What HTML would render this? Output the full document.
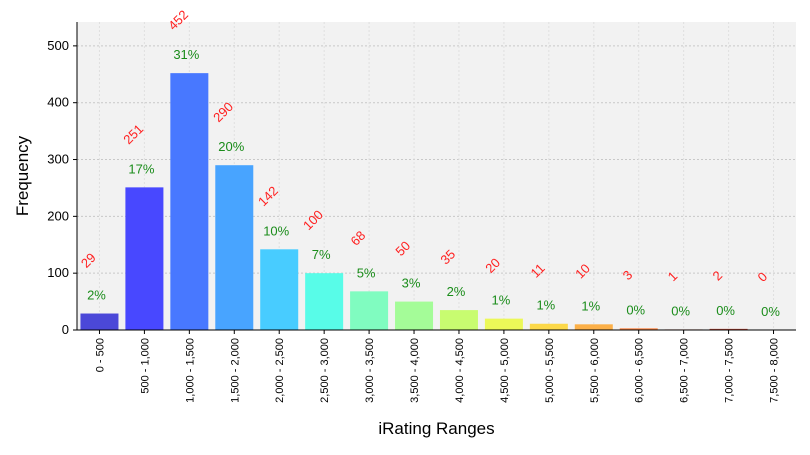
<!DOCTYPE html>
<html><head><meta charset="utf-8"><style>body{margin:0;background:#fff}svg{font-family:"Liberation Sans","DejaVu Sans",sans-serif}</style></head>
<body>
<svg width="810" height="450">
<g id="plot"></g>
</svg>
<script>
const categories=["0 - 500","500 - 1,000","1,000 - 1,500","1,500 - 2,000","2,000 - 2,500","2,500 - 3,000","3,000 - 3,500","3,500 - 4,000","4,000 - 4,500","4,500 - 5,000","5,000 - 5,500","5,500 - 6,000","6,000 - 6,500","6,500 - 7,000","7,000 - 7,500","7,500 - 8,000"];
const counts=[29,251,452,290,142,100,68,50,35,20,11,10,3,1,2,0];
const percents=["2%","17%","31%","20%","10%","7%","5%","3%","2%","1%","1%","1%","0%","0%","0%","0%"];
const yTicks=[0,100,200,300,400,500];
const colors=["#4b48d8","#4848ff","#4878ff","#48a4ff","#48ccff","#58fce8","#80fcc0","#a4fc98","#c8fc70","#ecf858","#fcd848","#fcb048","#fc8848","#e86040","#c04838","#a03030"];
const NS="http://www.w3.org/2000/svg";
const L=77,R=796,T=22,B=330,yMax=542;
const y=v=>B-(v/yMax)*(B-T);
const step=(R-L)/categories.length;
const x=i=>L+step*(i+0.5);
const g=document.getElementById('plot');
function el(t,a,txt){const e=document.createElementNS(NS,t);for(const k in a)e.setAttribute(k,a[k]);if(txt!==undefined)e.textContent=txt;g.appendChild(e);return e;}
let bg=el('rect',{x:L,y:T,width:R-L,height:B-T,fill:'#f2f2f2'});


yTicks.forEach(v=>{
 let gl=el('line',{x1:L,x2:R,y1:y(v),y2:y(v),stroke:'#c8c8c8','stroke-dasharray':'2,2'});
 
 
 let tk=el('line',{x1:L-4,x2:L,y1:y(v),y2:y(v),stroke:'#000'});
 
 
 let t=el('text',{x:L-8,y:y(v)+4,'text-anchor':'end','font-size':13},v);
 
 
});
categories.forEach((c,i)=>{
 let vg=el('line',{x1:x(i),x2:x(i),y1:T,y2:B,stroke:'#e0e0e0','stroke-dasharray':'2,2'});
 
 
 let b=el('rect',{x:x(i)-19,y:y(counts[i]),width:38,height:B-y(counts[i]),fill:colors[i]});
 
 
 let p=el('text',{x:x(i)-3,y:y(counts[i])-14,'text-anchor':'middle','font-size':13,fill:'#1a8c1a'},percents[i]);
 
 
 let cx=x(i)-8,cy=y(counts[i])-50;
 let cl=el('text',{x:cx,y:cy,'text-anchor':'middle','font-size':13,fill:'#ff2020',transform:`rotate(-45 ${cx} ${cy})`},counts[i]);
 
 
 let tk=el('line',{x1:x(i),x2:x(i),y1:B,y2:B+4,stroke:'#000'});
 
 
 let tx=x(i)+4,ty=B+8;
 let xl=el('text',{x:tx,y:ty,'text-anchor':'end','font-size':11,transform:`rotate(-90 ${tx} ${ty})`},c);
 
 
});
let ax=el('path',{d:`M${L} ${T}V${B}H${R}`,fill:'none',stroke:'#000'});


let xt=el('text',{x:(L+R)/2,y:434,'text-anchor':'middle','font-size':17},'iRating Ranges');


let yt=el('text',{x:28,y:176,'text-anchor':'middle','font-size':17,transform:'rotate(-90 28 176)'},'Frequency');


</script>
</body></html>
